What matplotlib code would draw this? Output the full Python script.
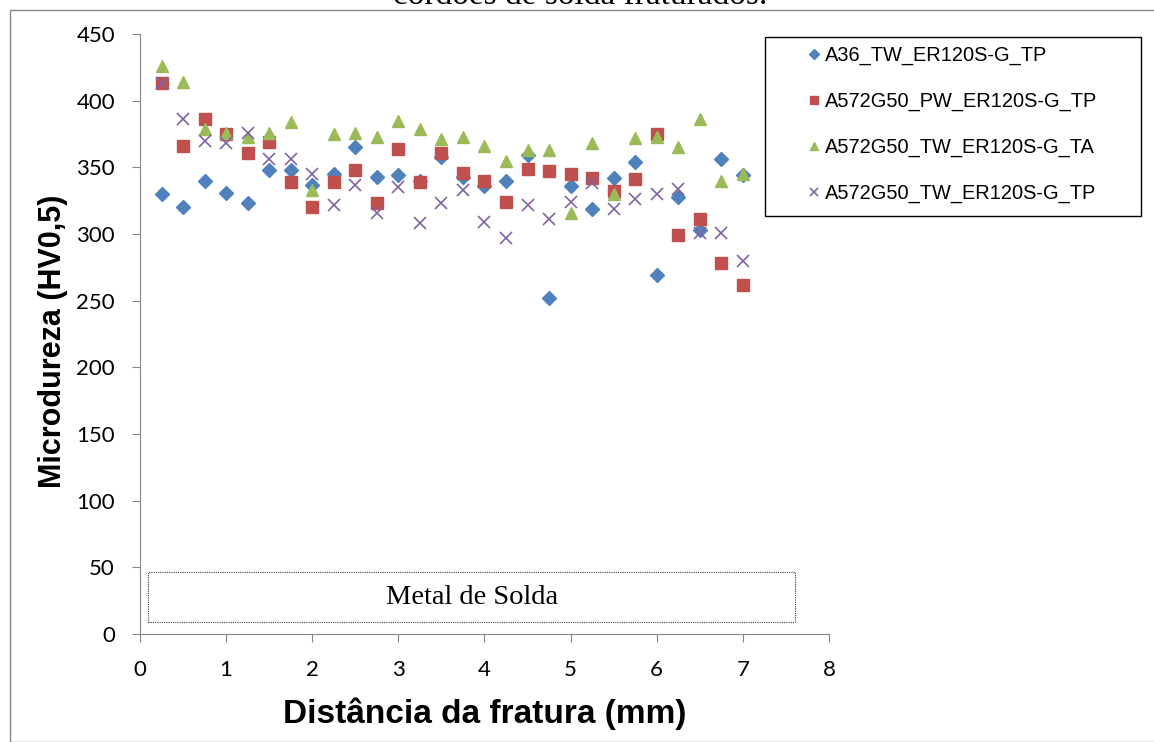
import matplotlib
matplotlib.use("Agg")
import matplotlib.pyplot as plt
from matplotlib.patches import Rectangle

# distancia da fratura (mm)
dist = [0.25, 0.5, 0.75, 1.0, 1.25, 1.5, 1.75, 2.0, 2.25, 2.5, 2.75, 3.0, 3.25, 3.5,
        3.75, 4.0, 4.25, 4.5, 4.75, 5.0, 5.25, 5.5, 5.75, 6.0, 6.25, 6.5, 6.75, 7.0]

a36_tw_tp = [330, 320, 340, 331, 323, 348, 348, 337, 345, 365, 343, 344, 340, 358,
             343, 336, 340, 359, 252, 336, 319, 342, 354, 269, 328, 303, 356, 344]
a572_pw_tp = [413, 366, 386, 375, 361, 369, 339, 320, 339, 348, 323, 364, 339, 361,
              346, 340, 324, 349, 347, 345, 342, 332, 341, 375, 299, 311, 278, 262]
a572_tw_ta = [426, 414, 379, 376, 373, 376, 384, 333, 375, 376, 373, 385, 379, 371,
              373, 366, 355, 363, 363, 316, 368, 330, 372, 373, 365, 386, 340, 345]
a572_tw_tp = [413, 386, 370, 368, 376, 356, 356, 345, 322, 337, 316, 335, 308, 323,
              333, 309, 297, 322, 311, 324, 338, 319, 326, 330, 334, 301, 301, 280]

nomes = ["A36_TW_ER120S-G_TP", "A572G50_PW_ER120S-G_TP",
         "A572G50_TW_ER120S-G_TA", "A572G50_TW_ER120S-G_TP"]

W, H = 1154, 742
fig = plt.figure(figsize=(W / 100, H / 100), dpi=100)

# moldura do grafico e titulo (cortado no topo)
fig.patches.append(Rectangle((10 / W, 0), 1.2, (H - 10) / H, transform=fig.transFigure,
                             fill=False, edgecolor="#868686", linewidth=1.0))
fig.text(0.503, 1 - 4 / H, "cordões de solda fraturados.", ha="center", va="baseline",
         family="Liberation Serif", fontsize=24)

ax = fig.add_axes([140 / W, 1 - 634 / H, (829 - 140) / W, 600 / H])

ax.plot(dist, a36_tw_tp, ls="none", marker="D", ms=7, color="#4F81BD", label=nomes[0])
ax.plot(dist, a572_pw_tp, ls="none", marker="s", ms=8, color="#C0504D", label=nomes[1])
ax.plot(dist, a572_tw_ta, ls="none", marker="^", ms=9, color="#9BBB59", label=nomes[2])
ax.plot(dist, a572_tw_tp, ls="none", marker="x", ms=9, mew=1.2, color="#8064A2", label=nomes[3])

ax.set_xlim(0, 8)
ax.set_ylim(0, 450)
ax.set_xticks(range(0, 9))
ax.set_yticks(range(0, 451, 50))
for s in ["top", "right"]:
    ax.spines[s].set_visible(False)
for s in ["left", "bottom"]:
    ax.spines[s].set_color("#868686")
ax.tick_params(color="#868686", length=6, labelsize=16)
ax.tick_params(axis="y", pad=12)
ax.tick_params(axis="x", pad=13)
for lb in ax.get_xticklabels() + ax.get_yticklabels():
    lb.set_family(["Lato", "DejaVu Sans"])

ax.set_xlabel("Distância da fratura (mm)", fontsize=24, fontweight="bold",
              family="Liberation Sans", labelpad=12)
ax.set_ylabel("Microdureza (HV0,5)", fontsize=22, fontweight="bold",
              family="Liberation Sans")
ax.yaxis.set_label_coords(-0.105, 0.488)

# regiao do metal de solda
ax.add_patch(Rectangle((0.09, 9), 7.52, 37.5, fill=False, edgecolor="#404040",
                       linestyle=(0, (1, 1)), linewidth=0.8))
ax.text(3.85, 27.5, "Metal de Solda", ha="center", va="center",
        family="Liberation Serif", fontsize=20.5)

# legenda com moldura propria
fig.patches.append(Rectangle((765 / W, 1 - 216 / H), (1141 - 765) / W, (216 - 37) / H,
                             transform=fig.transFigure, fill=False,
                             edgecolor="black", linewidth=1.0))
fig.legend(loc="upper left", bbox_to_anchor=(808 / W, 1 - 46 / H),
           frameon=False, prop={"family": "Liberation Sans", "size": 14.4},
           handlelength=0.6, handletextpad=0.25, labelspacing=1.34,
           borderpad=0, borderaxespad=0, markerscale=0.7)

fig.savefig("out.png", dpi=100)
